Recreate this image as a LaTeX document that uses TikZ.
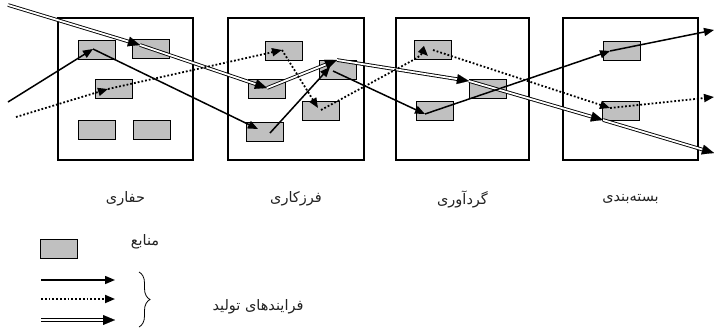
\documentclass[tikz,border=0pt]{standalone}
\usepackage{fontspec}
\newfontfamily\arabicfont[Script=Arabic]{DejaVu Sans}
\TeXXeTstate=1
\usetikzlibrary{arrows.meta,decorations.pathreplacing,calc}
\definecolor{resgray}{RGB}{192,192,192}
\definecolor{txt}{RGB}{34,34,34}
\newcommand\pers[1]{{\arabicfont\beginR #1\endR}}
\begin{document}
\begin{tikzpicture}[x=1pt,y=-1pt,
  stagebox/.style={draw, line width=2.4pt, minimum width=135pt, minimum height=142pt, inner sep=0pt},
  res/.style={draw, line width=0.9pt, fill=resgray, minimum width=37pt, minimum height=19pt, inner sep=0pt},
  solidflow/.style={line width=1.5pt, -{Triangle[length=10pt,width=8pt]}},
  dotflow/.style={line width=1.8pt, dash pattern=on 1.8pt off 2pt, -{Triangle[length=10pt,width=8pt]}},
  dblline/.style={double, line width=0.9pt, double distance=1.8pt, shorten >=7pt},
  dbltip/.style={line width=0.1pt, fill, -{Triangle[length=12pt,width=10pt]}},
  lbl/.style={font=\fontsize{14.5}{16}\selectfont, text=txt, inner sep=0pt}
]
\useasboundingbox (0,0) rectangle (714,330);

% stages
\node[stagebox] (S1) at (125.5,89) {};
\node[stagebox, minimum width=136pt] (S2) at (296,89) {};
\node[stagebox, minimum width=133pt] (S3) at (462.5,89) {};
\node[stagebox] (S4) at (630.5,89) {};

% resources
\node[res] (A1) at (96.5,49.5) {};
\node[res] (A2) at (151,48.5) {};
\node[res] (A3) at (114,89) {};
\node[res] (A4) at (96.5,129.5) {};
\node[res] (A5) at (152,130) {};
\node[res] (B1) at (284,50.5) {};
\node[res] (B2) at (266.5,89) {};
\node[res] (B3) at (338,69.5) {};
\node[res] (B4) at (321,110.5) {};
\node[res] (B5) at (264.5,132) {};
\node[res] (C1) at (432.5,50) {};
\node[res] (C2) at (487.5,89) {};
\node[res] (C3) at (434.5,110.5) {};
\node[res] (D1) at (621.5,50.5) {};
\node[res] (D2) at (620.5,110.5) {};

% solid path points
\coordinate (s0) at (8,102);
\coordinate (s1) at (93,49);
\coordinate (s2) at (258,129);
\coordinate (s2b) at (270,133);
\coordinate (s3) at (330,67);
\coordinate (s3b) at (333,71);
\coordinate (s4) at (425,114);
\coordinate (s5) at (610,51);
\coordinate (s6) at (714,30);
% dotted path points
\coordinate (d0) at (16,117);
\coordinate (d1) at (108,89);
\coordinate (d2) at (282,50);
\coordinate (d3) at (318,108);
\coordinate (d3b) at (321,110);
\coordinate (d4a) at (417,58);
\coordinate (d4c) at (424,52);
\coordinate (d4) at (428,56);
\coordinate (d4b) at (433,50);
\coordinate (d5) at (610,108);
\coordinate (d6) at (714,97);
% double path points
\coordinate (b0) at (8,5);
\coordinate (b1) at (140,45);
\coordinate (b2) at (267,88);
\coordinate (b3) at (337,60);
\coordinate (b4) at (469,81);
\coordinate (b5) at (603,120);
\coordinate (b6) at (714,153);

% double-line process
\foreach \p/\q in {b0/b1, b1/b2, b2/b3, b3/b4, b4/b5, b5/b6}{
  \draw[dblline] (\p) -- (\q);
  \draw[dbltip] ($(\q)!10pt!(\p)$) -- (\q);
}

% solid process
\draw[solidflow] (s0) -- (s1);
\draw[solidflow] (s1) -- (s2);
\draw[solidflow] (s2b) -- (s3);
\draw[solidflow] (s3b) -- (s4);
\draw[solidflow] (s4) -- (s5);
\draw[solidflow] (s5) -- (s6);

% dotted process
\draw[dotflow] (d0) -- (d1);
\draw[dotflow] (d1) -- (d2);
\draw[dotflow] (d2) -- (d3);
\draw[dotflow] (d3b) -- (d4a) .. controls (d4c) .. (d4);
\draw[dotflow] (d4b) -- (d5);
\draw[dotflow] (d5) -- (d6);

% stage labels
\node[lbl] (t1) at (125.5,199) {\pers{حفاری}};
\node[lbl] (t2) at (296,199) {\pers{فرزکاری}};
\node[lbl] (t3) at (462.5,199) {\pers{گردآوری}};
\node[lbl] (t4) at (630.5,199) {\pers{بسته‌بندی}};

% legend
\node[res] (L0) at (58.5,249) {};
\node[lbl] (L0t) at (145,242) {\pers{منابع}};
\coordinate (l1a) at (41,280); \coordinate (l1b) at (115,280);
\coordinate (l2a) at (41,299); \coordinate (l2b) at (115,299);
\coordinate (l3a) at (41,320); \coordinate (l3b) at (115,320);
\draw[solidflow] (l1a) -- (l1b);
\draw[dotflow] (l2a) -- (l2b);
\draw[dblline] (l3a) -- (l3b);
\draw[dbltip] ($(l3b)!10pt!(l3a)$) -- (l3b);
\coordinate (bt) at (139,272);
\coordinate (bb) at (139,327);
\draw[line width=0.8pt, decorate, decoration={brace, amplitude=11pt}] (bt) -- (bb);
\node[lbl] (L1t) at (258,307) {\pers{فرایندهای تولید}};
\end{tikzpicture}
\end{document}
